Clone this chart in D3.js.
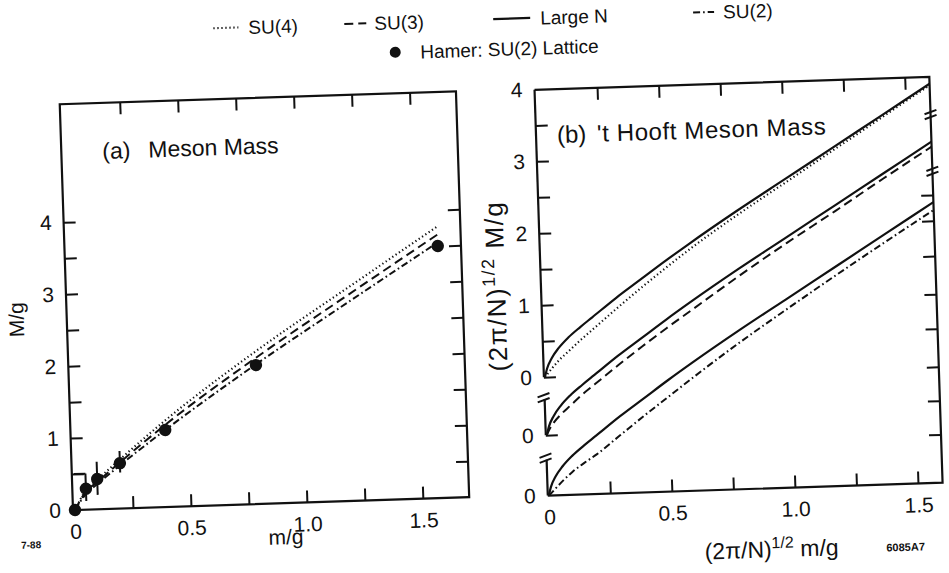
<!DOCTYPE html>
<html><head><meta charset="utf-8">
<script src="https://cdn.jsdelivr.net/npm/d3@7"></script>
<style>
body{margin:0;background:#fff}
svg{display:block}
text{font-family:"Liberation Sans",Arial,Helvetica,sans-serif;fill:#111}
</style></head>
<body><svg id="c" width="949" height="573"></svg>
<script>
// ---------- data: panel (a) Meson Mass ----------
const aX      = [0, 0.05, 0.1, 0.2, 0.4, 0.8, 1.2, 1.6];
const aSU4    = [0, 0.27, 0.41, 0.68, 1.20, 2.12, 2.95, 3.77];
const aSU3    = [0, 0.25, 0.38, 0.64, 1.14, 2.03, 2.85, 3.66];
const aSU2    = [0, 0.22, 0.35, 0.60, 1.07, 1.94, 2.75, 3.55];
const hamerX  = [0, 0.05, 0.1, 0.2, 0.4, 0.8, 1.6];
const hamerM  = [0, 0.29, 0.42, 0.63, 1.07, 1.93, 3.50];
const hamerLo = [0, 0.12, 0.20, 0.50, 1.07, 1.93, 3.50];
const hamerHi = [0, 0.50, 0.66, 0.80, 1.07, 1.93, 3.50];
const aXTicks = [0.25, 0.5, 0.75, 1.0, 1.25, 1.5];
const aXLabels = [0, 0.5, 1.0, 1.5];
const aYTicks = [0.5, 1, 1.5, 2, 2.5, 3, 3.5, 4];
const aYLabels = [0, 1, 2, 3, 4];

// ---------- data: panel (b) 't Hooft Meson Mass ----------
const bX      = [0, 0.01, 0.03, 0.06, 0.1, 0.15, 0.2, 0.3, 0.4, 0.5, 0.6, 0.8, 1.0, 1.2, 1.4, 1.6];
const bLargeN = [0, 0.12, 0.26, 0.40, 0.54, 0.68, 0.81, 1.07, 1.31, 1.55, 1.78, 2.22, 2.64, 3.06, 3.48, 3.90];
const bSU4    = [0, 0.04, 0.12, 0.23, 0.35, 0.50, 0.64, 0.92, 1.19, 1.45, 1.70, 2.16, 2.59, 3.02, 3.45, 3.88];
const bSU3    = [0, 0.07, 0.17, 0.28, 0.40, 0.55, 0.68, 0.94, 1.19, 1.43, 1.66, 2.12, 2.56, 2.98, 3.41, 3.83];
const bSU2    = [0, 0.03, 0.10, 0.20, 0.32, 0.44, 0.55, 0.81, 1.07, 1.32, 1.57, 2.05, 2.50, 2.94, 3.37, 3.79];
const bXTicks = [0.25, 0.5, 0.75, 1.0, 1.25, 1.5];
const bXLabels = [0, 0.5, 1.0, 1.5];
const bYTicks = [0.5, 1, 1.5, 2, 2.5, 3, 3.5];
const bYLabels = [0, 1, 2, 3, 4];
const bRightTicks = [0.67, 1.14, 1.61, 2.14, 2.62, 3.15, 3.64, 4.0];

const legendItems = ["SU(4)", "SU(3)", "Large N", "SU(2)"];

// ---------- layout ----------
const svg = d3.select("#c");
const root = svg.append("g").attr("transform", "rotate(-1.87,75,510)");
const INK = "#111";
const FS = 21;

const xA = d3.scaleLinear().domain([0, 1.7]).range([75, 469.4]);
const yA = d3.scaleLinear().domain([0, 5.64]).range([510, 104]);
const xB = d3.scaleLinear().domain([0, 1.6]).range([549, 943]);
const yTot = d3.scaleLinear().domain([0, 5.64]).range([511, 105]);
const offs = [1.645, 0.84, 0];            // vertical offsets of the three stacked sub-plots
const yG = offs.map(o => d3.scaleLinear().domain([-o, 5.64 - o]).range([511, 105]));

const styles = {
  dot:  {dash: "1.3,2.7", w: 2.1},
  dash: {dash: "9,5", w: 2},
  solid:{dash: null, w: 2.2},
  dd:   {dash: "7,3,1.6,3", w: 2}
};
function styl(sel, s){
  sel.attr("fill","none").attr("stroke",INK).attr("stroke-width",s.w);
  if (s.dash) sel.attr("stroke-dasharray", s.dash);
  return sel;
}
function cleanAxis(gr){ gr.select(".domain").remove(); gr.selectAll("line").attr("stroke",INK).attr("stroke-width",2); gr.selectAll("text").attr("font-size",FS).attr("fill",INK).attr("font-family","Liberation Sans, Arial, sans-serif"); }

// ================= Panel (a) =================
const A = root.append("g");
const aL = 73, aR = xA.range()[1], aT = yA.range()[1], aB = yA.range()[0];
A.append("path").attr("d", `M${aL},${aT}H${aR}V${aB}H${aL}Z`).attr("fill","none").attr("stroke",INK).attr("stroke-width",2.2);

cleanAxis(A.append("g").attr("transform",`translate(0,${aB})`).call(d3.axisBottom(xA).tickValues(aXTicks).tickSize(-12).tickFormat("")));
cleanAxis(A.append("g").attr("transform",`translate(0,${aT})`).call(d3.axisTop(xA).tickValues(aXTicks).tickSize(-12).tickFormat("")));
cleanAxis(A.append("g").attr("transform",`translate(${aL},0)`).call(d3.axisLeft(yA).tickValues(aYTicks).tickSize(-12).tickFormat("")));
cleanAxis(A.append("g").attr("transform",`translate(${aR},0)`).call(d3.axisRight(yA).tickValues(aYTicks).tickSize(-12).tickFormat("")));
cleanAxis(A.append("g").attr("transform",`translate(0,${aB})`).call(d3.axisBottom(xA).tickValues(aXLabels).tickSize(0).tickPadding(14).tickFormat(d => d === 0 ? "0" : d3.format(".1f")(d))));
cleanAxis(A.append("g").attr("transform",`translate(${aL},0)`).call(d3.axisLeft(yA).tickValues(aYLabels).tickSize(0).tickPadding(12).tickFormat(d3.format("d"))));

const lineA = d3.line().x(d => xA(d[0])).y(d => yA(d[1])).curve(d3.curveMonotoneX);
styl(A.append("path").attr("d", lineA(aX.map((x,i)=>[x,aSU4[i]]))), styles.dot);
styl(A.append("path").attr("d", lineA(aX.map((x,i)=>[x,aSU3[i]]))), styles.dash);
styl(A.append("path").attr("d", lineA(aX.map((x,i)=>[x,aSU2[i]]))), styles.dd);

// error bars + lattice points
hamerX.forEach((x,i)=>{
  if (hamerHi[i] > hamerLo[i]) {
    A.append("line").attr("x1",xA(x)).attr("x2",xA(x)).attr("y1",yA(hamerLo[i])).attr("y2",yA(hamerHi[i])).attr("stroke",INK).attr("stroke-width",2);
  }
});
A.append("path").attr("d", `M${xA(0)},${yA(hamerHi[1])}H${xA(hamerX[1])}`).attr("stroke",INK).attr("stroke-width",2);
A.selectAll("circle.h").data(hamerX).join("circle").attr("class","h")
  .attr("cx", d => xA(d)).attr("cy", (d,i) => yA(hamerM[i])).attr("r", 6.2).attr("fill", INK);

A.append("text").attr("x",114).attr("y",160).attr("font-size",23).text("(a)");
A.append("text").attr("x",160).attr("y",160).attr("font-size",23).text("Meson Mass");
A.append("text").attr("transform","translate(30,318) rotate(-90)").attr("text-anchor","middle").attr("font-size",FS).text("M/g");
A.append("text").attr("x",285).attr("y",551).attr("text-anchor","middle").attr("font-size",FS).text("m/g");
A.append("text").attr("x",20).attr("y",547).attr("font-size",10).attr("font-weight","bold").text("7-88");

// ================= Panel (b) =================
const B = root.append("g");
const bL = xB.range()[0], bR = xB.range()[1], bT = yTot.range()[1], bBot = yTot.range()[0];
B.append("path").attr("d", `M${bL-1},${bT}H${bR}V${bBot}H${bL-1}`).attr("fill","none").attr("stroke",INK).attr("stroke-width",2.2);
B.append("line").attr("x1",bL-1).attr("x2",bL-1).attr("y1",yG[0](0)).attr("y2",bT).attr("stroke",INK).attr("stroke-width",2.2);
B.append("line").attr("x1",bL-1).attr("x2",bL-1).attr("y1",yG[1](0)).attr("y2",yG[1](0.5)).attr("stroke",INK).attr("stroke-width",2.2);
B.append("line").attr("x1",bL-1).attr("x2",bL-1).attr("y1",yG[2](0)).attr("y2",yG[2](0.5)).attr("stroke",INK).attr("stroke-width",2.2);
function brk(cx, cy){
  [0,5].forEach(o=>B.append("line").attr("x1",cx-6).attr("y1",cy+2+o).attr("x2",cx+6).attr("y2",cy-2+o).attr("stroke",INK).attr("stroke-width",2));
}
brk(bL-2, yG[1](0.5)-4);
brk(bL-2, yG[2](0.5)-4);
brk(bR, yTot(5.11)-3);
brk(bR, yTot(4.32)-3);

cleanAxis(B.append("g").attr("transform",`translate(0,${bBot})`).call(d3.axisBottom(xB).tickValues(bXTicks).tickSize(-12).tickFormat("")));
cleanAxis(B.append("g").attr("transform",`translate(0,${bT})`).call(d3.axisTop(xB).tickValues(bXTicks).tickSize(-12).tickFormat("")));
cleanAxis(B.append("g").attr("transform",`translate(${bL-1},0)`).call(d3.axisLeft(yG[0]).tickValues([0].concat(bYTicks)).tickSize(-12).tickFormat("")));
cleanAxis(B.append("g").attr("transform",`translate(${bL-1},0)`).call(d3.axisLeft(yG[1]).tickValues([0]).tickSize(-12).tickFormat("")));
cleanAxis(B.append("g").attr("transform",`translate(${bR},0)`).call(d3.axisRight(yG[2]).tickValues(bRightTicks).tickSize(-12).tickFormat("")));
cleanAxis(B.append("g").attr("transform",`translate(0,${bBot})`).call(d3.axisBottom(xB).tickValues(bXLabels).tickSize(0).tickPadding(14).tickFormat(d => d === 0 ? "0" : d3.format(".1f")(d))));
cleanAxis(B.append("g").attr("transform",`translate(${bL-1},0)`).call(d3.axisLeft(yG[0]).tickValues(bYLabels).tickSize(0).tickPadding(12).tickFormat(d3.format("d"))));
cleanAxis(B.append("g").attr("transform",`translate(${bL-1},0)`).call(d3.axisLeft(yG[1]).tickValues([0]).tickSize(0).tickPadding(12).tickFormat(d3.format("d"))));
cleanAxis(B.append("g").attr("transform",`translate(${bL-1},0)`).call(d3.axisLeft(yG[2]).tickValues([0]).tickSize(0).tickPadding(12).tickFormat(d3.format("d"))));

const groups = [[bSU4, styles.dot, 0], [bSU3, styles.dash, 1], [bSU2, styles.dd, 2]];
groups.forEach(([ser, st, gi]) => {
  const ln = d3.line().x(d => xB(d[0])).y(d => yG[gi](d[1])).curve(d3.curveMonotoneX);
  styl(B.append("path").attr("d", ln(bX.map((x,i)=>[x,ser[i]]))), st);
  styl(B.append("path").attr("d", ln(bX.map((x,i)=>[x,bLargeN[i]]))), styles.solid);
});

B.append("text").attr("x",569).attr("y",159).attr("font-size",24).text("(b)");
B.append("text").attr("x",609).attr("y",159).attr("font-size",24).attr("letter-spacing",0.6).text("'t Hooft Meson Mass");
const yl = B.append("text").attr("transform","translate(512,300) rotate(-90)").attr("text-anchor","middle").attr("font-size",26).attr("letter-spacing",1.5);
yl.append("tspan").text("(2\u03C0/N)");
yl.append("tspan").attr("dy",-10).attr("font-size",18).text("1/2");
yl.append("tspan").attr("dy",10).text("\u00A0M/g");
const xl = B.append("text").attr("x",770).attr("y",580).attr("text-anchor","middle").attr("font-size",23);
xl.append("tspan").text("(2\u03C0/N)");
xl.append("tspan").attr("dy",-9).attr("font-size",16).text("1/2");
xl.append("tspan").attr("dy",9).text("\u00A0m/g");
B.append("text").attr("x",904).attr("y",578).attr("text-anchor","middle").attr("font-size",11).attr("font-weight","bold").text("6085A7");

// ================= Legend =================
const L = root.append("g");
const legLines = [[229,254,styles.dot],[360,382,styles.dash],[509,546,styles.solid],[709,730,styles.dd]];
const legText = [264, 390, 556, 739];
legLines.forEach(([x1,x2,st],i)=>{
  styl(L.append("line").attr("x1",x1).attr("x2",x2).attr("y1",33).attr("y2",33), st);
  L.append("text").attr("x",legText[i]).attr("y",40).attr("font-size",19).text(legendItems[i]);
});
L.append("circle").attr("cx",410).attr("cy",63).attr("r",5.5).attr("fill",INK);
L.append("text").attr("x",435).attr("y",70).attr("font-size",19).text("Hamer:  SU(2)  Lattice");
</script></body></html>
